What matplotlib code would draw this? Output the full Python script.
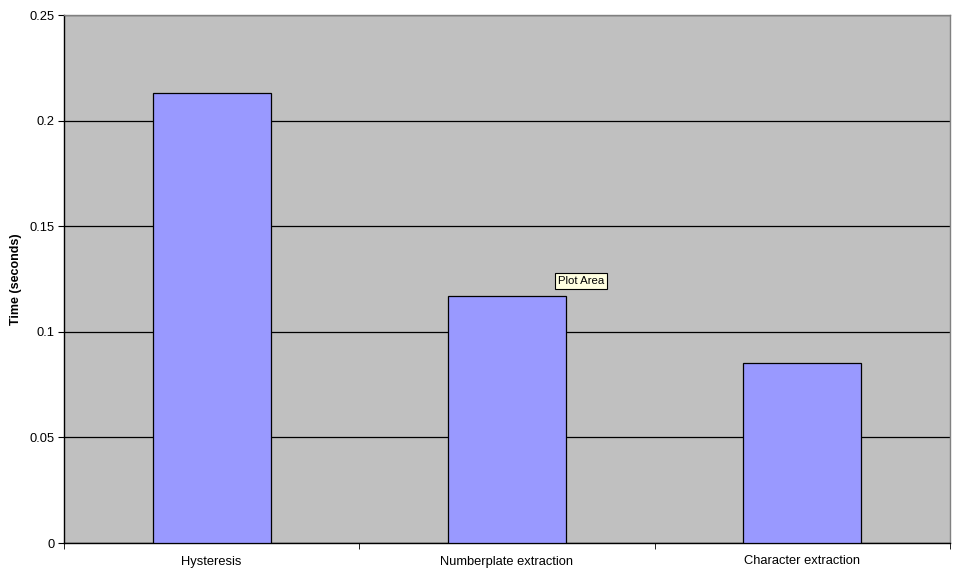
import matplotlib.pyplot as plt
import numpy as np

categories = ['Hysteresis', 'Numberplate extraction', 'Character extraction']
times = [0.213, 0.117, 0.085]
y_ticks = [0, 0.05, 0.1, 0.15, 0.2, 0.25]
y_tick_labels = ['0', '0.05', '0.1', '0.15', '0.2', '0.25']

plt.rcParams['font.family'] = ['Liberation Sans', 'DejaVu Sans']

fig = plt.figure(figsize=(9.56, 5.73), dpi=100)
ax = fig.add_axes([64 / 956, 30 / 573, 886 / 956, 528 / 573])
ax.set_facecolor('#C0C0C0')

x = np.arange(len(categories))
ax.bar(x, times, width=0.4, color='#9999FF', edgecolor='#000000', linewidth=0.9, zorder=3)

ax.set_xlim(-0.5, len(categories) - 0.5)
ax.set_ylim(0, 0.25)

ax.set_yticks(y_ticks)
ax.set_yticklabels(y_tick_labels, fontsize=9.3)
ax.yaxis.grid(True, color='black', linewidth=0.9, zorder=1)
ax.set_axisbelow(True)

# category labels centred, tick marks on the boundaries
ax.set_xticks(x)
ax.set_xticklabels(categories, fontsize=9.3)
ax.tick_params(axis='x', length=0, pad=9)
ax.set_xticks(np.arange(len(categories) + 1) - 0.5, minor=True)
ax.tick_params(axis='x', which='minor', length=4, direction='out', color='black')
ax.tick_params(axis='y', length=4, direction='out', color='black', pad=3)

ax.set_ylabel('Time (seconds)', fontsize=9, fontweight='bold', labelpad=5)

ax.spines['left'].set_color('black')
ax.spines['bottom'].set_color('black')
ax.spines['top'].set_color('#808080')
ax.spines['right'].set_color('#808080')
for s in ax.spines.values():
    s.set_linewidth(1.0)

# the "Plot Area" tooltip from the screenshot
fig.text(558 / 956, 1 - 281 / 573, 'Plot Area', fontsize=8.2, va='center', ha='left',
         bbox=dict(boxstyle='square,pad=0.25', facecolor='#FFFFE1', edgecolor='black', linewidth=0.8))

fig.savefig('out.png', dpi=100)
